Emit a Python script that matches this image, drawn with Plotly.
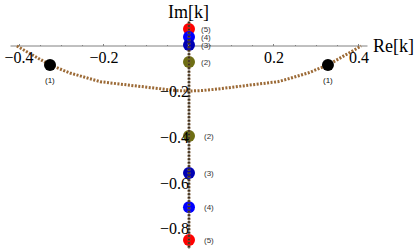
import plotly.graph_objects as go

# Trajectory curve (dotted brown)
curve_re = [-0.405, -0.38, -0.327, -0.28, -0.233, -0.209, -0.17, -0.139, -0.1, -0.068, -0.03, 0.0,
            0.03, 0.068, 0.1, 0.139, 0.17, 0.209, 0.233, 0.28, 0.327, 0.38, 0.405]
curve_im = [0.0, -0.026, -0.083, -0.118, -0.144, -0.156, -0.165, -0.171, -0.181, -0.188, -0.195, -0.197,
            -0.195, -0.188, -0.181, -0.171, -0.165, -0.156, -0.144, -0.118, -0.083, -0.026, 0.0]

# Imaginary-axis trajectory (vertical dotted)
vline_re = [0.0, 0.0]
vline_im = [0.106, -0.9]

# Poles
pole_re = [-0.327, 0.327, 0, 0, 0, 0, 0, 0, 0, 0]
pole_im = [-0.083, -0.083, 0.074, 0.039, 0.004, -0.07, -0.394, -0.556, -0.705, -0.849]
pole_lbl = ["(1)", "(1)", "(5)", "(4)", "(3)", "(2)", "(2)", "(3)", "(4)", "(5)"]
pole_col = ["#000000", "#000000", "#ff0000", "#0000ff", "#0000b4", "#6e6e14",
            "#6e6e14", "#0000b4", "#0000ff", "#ff0000"]

xticks = [-0.4, -0.2, 0.2, 0.4]
yticks = [-0.8, -0.6, -0.4, -0.2]

fig = go.Figure()

fig.add_trace(go.Scatter(x=curve_re, y=curve_im, mode="lines",
                         line=dict(color="#9c6a36", width=3, dash="2px,1.5px"),
                         hoverinfo="skip", showlegend=False))

fig.add_trace(go.Scatter(x=pole_re, y=pole_im, mode="markers",
                         marker=dict(size=12, color=pole_col, line=dict(width=0)),
                         showlegend=False))

fig.add_trace(go.Scatter(x=vline_re, y=vline_im, mode="lines",
                         line=dict(color="#7a5c3a", width=3, dash="2px,1.5px"),
                         hoverinfo="skip", showlegend=False))
fig.add_trace(go.Scatter(x=vline_re, y=vline_im, mode="lines",
                         line=dict(color="#1e1812", width=1.3, dash="1.5px,2px"),
                         hoverinfo="skip", showlegend=False))

# small labels
for re, im, t in zip(pole_re, pole_im, pole_lbl):
    if re == 0:
        fig.add_annotation(x=re, y=im, text=t, showarrow=False, xanchor="left",
                           xshift=10 if im > -0.2 else 13,
                           font=dict(family="Liberation Sans", size=8, color="#333333"))
    else:
        fig.add_annotation(x=re, y=im, text=t, showarrow=False, yshift=-16,
                           font=dict(family="Liberation Sans", size=8, color="#111111"))

# axis lines
fig.add_shape(type="line", x0=-0.42, x1=0.42, y0=0, y1=0,
              line=dict(color="#808080", width=1), layer="below")
fig.add_shape(type="line", x0=0, x1=0, y0=0.11, y1=-0.9,
              line=dict(color="#808080", width=1), layer="below")

fig.add_annotation(x=0.428, y=0, text="Re[k]", showarrow=False, xanchor="left",
                   font=dict(family="Liberation Serif", size=18, color="#000000"))
fig.add_annotation(x=0, y=0.149, text="Im[k]", showarrow=False, yanchor="middle",
                   font=dict(family="Liberation Serif", size=18, color="#000000"))

fig.update_layout(
    width=415, height=249,
    margin=dict(l=0, r=0, t=0, b=0),
    paper_bgcolor="white", plot_bgcolor="white",
    xaxis=dict(range=[-0.4447, 0.5318], showgrid=False, zeroline=False, showline=False,
               anchor="free", position=(249 - 46) / 249,
               tickvals=xticks, ticktext=["−0.4", "−0.2", "0.2", "0.4"],
               ticks="inside", ticklen=2, tickcolor="#808080",
               tickfont=dict(family="Liberation Serif", size=16, color="#000000"),
               minor=dict(dtick=0.05, ticks="inside", ticklen=1.5, tickcolor="#808080")),
    yaxis=dict(range=[-0.888, 0.2013], showgrid=False, zeroline=False, showline=False,
               anchor="free", position=189 / 415,
               tickvals=yticks, ticktext=["−0.8", "−0.6", "−0.4", "−0.2"],
               ticks="", ticklabelstandoff=0,
               tickfont=dict(family="Liberation Serif", size=16, color="#000000")),
)

fig.write_html("out.html", config={"displayModeBar": False},
               post_script="document.body.style.margin='0';")
